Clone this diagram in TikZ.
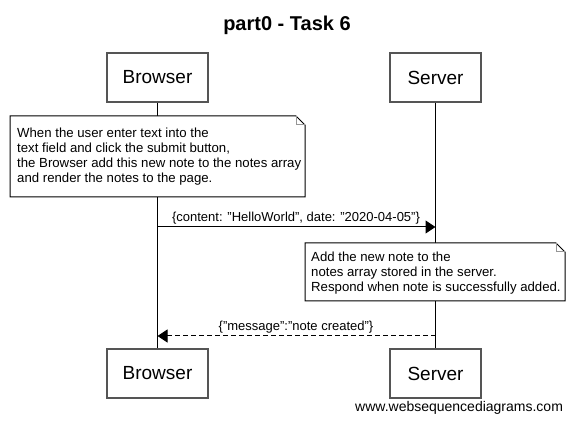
\documentclass[tikz,border=0pt]{standalone}
\usepackage{fontspec}
\setmainfont{Liberation Sans}
\usetikzlibrary{arrows.meta}
\definecolor{boxline}{RGB}{85,85,85}
\definecolor{foldgray}{RGB}{150,150,150}
\begin{document}
\begin{tikzpicture}[x=1pt,y=-1pt,
  participant/.style={draw=boxline, line width=1.5pt, fill=white, inner sep=0pt,
    font=\fontsize{19}{22}\selectfont},
  lifeline/.style={draw=black, line width=1pt},
  notebox/.style={draw=black, line width=1pt, fill=white},
  foldline/.style={draw=foldgray, line width=1pt},
  notetext/.style={inner sep=0pt, align=left, font=\fontsize{13.2}{15}\selectfont},
  lbl/.style={inner sep=0pt, font=\fontsize{13}{15}\selectfont},
  msg/.style={draw=black, line width=1pt, -{Triangle[length=10pt,width=13pt]}},
  reply/.style={msg, dash pattern=on 5pt off 3pt}
]
\useasboundingbox (0,0) rectangle (574,422);
\fill[white] (0,0) rectangle (574,422);

% title
\node[inner sep=0pt, anchor=base, font=\fontsize{20}{24}\selectfont\bfseries] (title) at (287,31) {part0 - Task 6};

% participants
\node[participant, minimum width=101pt, minimum height=49pt] (bt) at (157.5,77.5) {Browser};
\node[participant, minimum width=91pt, minimum height=49pt] (st) at (435.5,77.5) {Server};
\node[participant, minimum width=101pt, minimum height=49pt] (bb) at (157.5,373.5) {Browser};
\node[participant, minimum width=91pt, minimum height=49pt] (sb) at (435.5,373.5) {Server};

% lifelines
\draw[lifeline] (bt.south) -- (bb.north);
\draw[lifeline] (st.south) -- (sb.north);

% note 1
\draw[notebox] (10,116) -- (296,116) -- (305,125) -- (305,197) -- (10,197) -- cycle;
\draw[foldline] (296,116.5) -- (296,125) -- (304.5,125);
\node[notetext, anchor=west] (n1) at (17,157) {When the user enter text into the\\text field and click the submit button,\\the Browser add this new note to the notes array\\and render the notes to the page.};

% message 1
\coordinate (m1s) at (157.5,227);
\coordinate (m1e) at (435.5,227);
\draw[msg] (m1s) -- (m1e);
\node[lbl, anchor=base] (l1) at (296,222) {\{content: "HelloWorld", date: "2020-04-05"\}};

% note 2
\draw[notebox] (305,243) -- (556,243) -- (565,252) -- (565,301) -- (305,301) -- cycle;
\draw[foldline] (556,243.5) -- (556,252) -- (564.5,252);
\node[notetext, anchor=west] (n2) at (311,273.5) {Add the new note to the\\notes array stored in the server.\\Respond when note is successfully added.};

% message 2
\coordinate (m2s) at (435.5,336);
\coordinate (m2e) at (157.5,336);
\draw[reply] (m2s) -- (m2e);
\node[lbl, anchor=base] (l2) at (296,330.5) {\{"message":"note created"\}};

% watermark
\node[inner sep=0pt, anchor=base west, font=\fontsize{14}{16}\selectfont] (wm) at (355,412) {www.websequencediagrams.com};
\end{tikzpicture}
\end{document}
